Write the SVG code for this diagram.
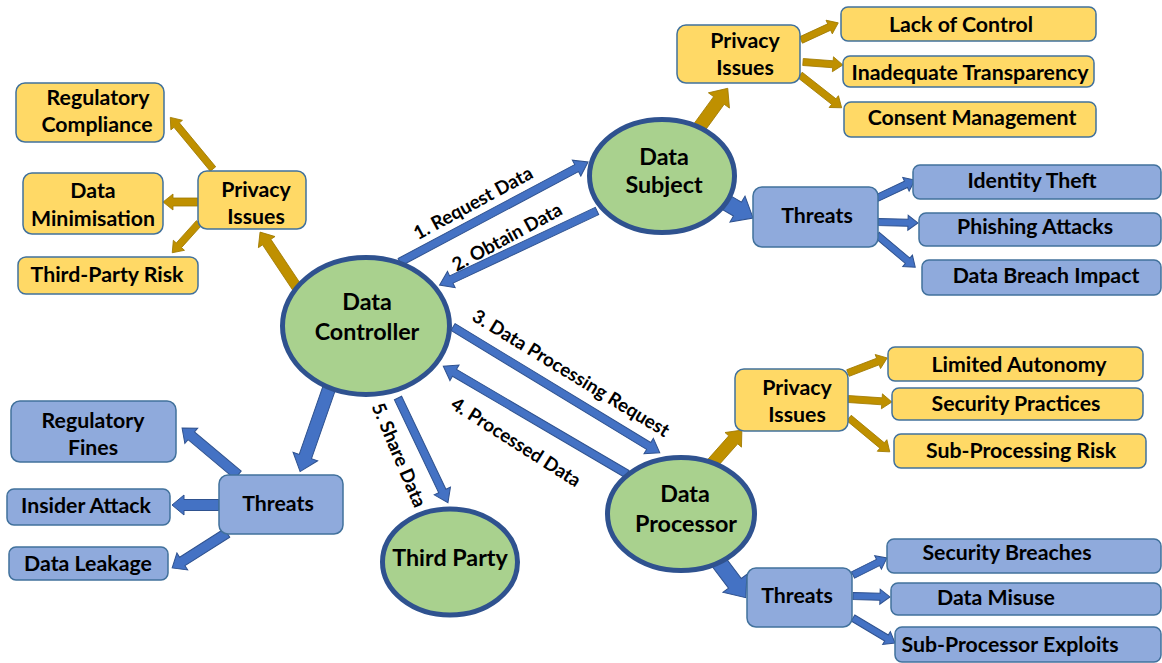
<svg xmlns="http://www.w3.org/2000/svg" width="1162" height="663" viewBox="0 0 1162 663">
<style>
text{font-family:Lato,"Liberation Sans",sans-serif;font-weight:bold;fill:#000;text-anchor:middle}
.bx{font-size:21.3px}
.el{font-size:23.3px}
.lb{font-size:18.8px}
.y{fill:#FFD966;stroke:#41719C;stroke-width:1.5}
.b{fill:#8FAADC;stroke:#41719C;stroke-width:1.5}
.e{fill:#A9D18E;stroke:#2F528F;stroke-width:5}
.ab{fill:#4472C4;stroke:#2F528F;stroke-width:1}
.ag{fill:#BF9000;stroke:#A07A00;stroke-width:0.8}
</style>
<rect width="1162" height="663" fill="#fff"/>
<g id="connectors">
<polygon class="ab" transform="translate(400,262) rotate(-28)" points="0,-4 200,-4 200,-9 213,0 200,9 200,4 0,4"/>
<polygon class="ab" transform="translate(597,211) rotate(154.8)" points="0,-4 161,-4 161,-9 174,0 161,9 161,4 0,4"/>
<polygon class="ab" transform="translate(453,327) rotate(31.3)" points="0,-4 229,-4 229,-9 242,0 229,9 229,4 0,4"/>
<polygon class="ab" transform="translate(627,474) rotate(-149.6)" points="0,-4 200,-4 200,-9 213,0 200,9 200,4 0,4"/>
<polygon class="ab" transform="translate(398,398) rotate(64.5)" points="0,-4 103,-4 103,-9 116,0 103,9 103,4 0,4"/>
<polygon class="ab" transform="translate(332,380) rotate(109.2)" points="0,-6.5 81,-6.5 81,-13 97,0 81,13 81,6.5 0,6.5"/>
<polygon class="ag" transform="translate(300,292) rotate(-123.7)" points="0,-5 60,-5 60,-10 72,0 60,10 60,5 0,5"/>
<polygon class="ag" transform="translate(696,132) rotate(-54)" points="0,-6.5 39,-6.5 39,-13 54,0 39,13 39,6.5 0,6.5"/>
<polygon class="ab" transform="translate(715,196) rotate(30.1)" points="0,-8 26,-8 26,-15 44,0 26,15 26,8 0,8"/>
<polygon class="ag" transform="translate(710,466) rotate(-48.4)" points="0,-6 35,-6 35,-11 48,0 35,11 35,6 0,6"/>
<polygon class="ab" transform="translate(712,553) rotate(52.9)" points="0,-8 38,-8 38,-15 56,0 38,15 38,8 0,8"/>
<polygon class="ag" transform="translate(801,40) rotate(-24.7)" points="0,-3.5 31,-3.5 31,-7.5 41,0 31,7.5 31,3.5 0,3.5"/>
<polygon class="ag" transform="translate(803,62) rotate(4.3)" points="0,-3.5 30,-3.5 30,-7.5 40,0 30,7.5 30,3.5 0,3.5"/>
<polygon class="ag" transform="translate(800,75) rotate(38.2)" points="0,-3.5 43,-3.5 43,-7.5 53,0 43,7.5 43,3.5 0,3.5"/>
<polygon class="ag" transform="translate(213,169) rotate(-129.6)" points="0,-3.5 57,-3.5 57,-7.5 67,0 57,7.5 57,3.5 0,3.5"/>
<polygon class="ag" transform="translate(198,202) rotate(180)" points="0,-4 25,-4 25,-8 35,0 25,8 25,4 0,4"/>
<polygon class="ag" transform="translate(199,223) rotate(132)" points="0,-3.5 30,-3.5 30,-7.5 40,0 30,7.5 30,3.5 0,3.5"/>
<polygon class="ag" transform="translate(848,373) rotate(-21)" points="0,-3.5 32,-3.5 32,-7.5 42,0 32,7.5 32,3.5 0,3.5"/>
<polygon class="ag" transform="translate(848,399) rotate(3.9)" points="0,-3.5 34,-3.5 34,-7.5 44,0 34,7.5 34,3.5 0,3.5"/>
<polygon class="ag" transform="translate(849,418) rotate(39.7)" points="0,-3.5 43,-3.5 43,-7.5 53,0 43,7.5 43,3.5 0,3.5"/>
<polygon class="ab" transform="translate(877,198) rotate(-25.3)" points="0,-3.5 32,-3.5 32,-7.5 42,0 32,7.5 32,3.5 0,3.5"/>
<polygon class="ab" transform="translate(878,222) rotate(1.4)" points="0,-3.5 30,-3.5 30,-7.5 40,0 30,7.5 30,3.5 0,3.5"/>
<polygon class="ab" transform="translate(877,235) rotate(40.1)" points="0,-3.5 40,-3.5 40,-7.5 50,0 40,7.5 40,3.5 0,3.5"/>
<polygon class="ab" transform="translate(238,475) rotate(-140)" points="0,-5 61,-5 61,-10 73,0 61,10 61,5 0,5"/>
<polygon class="ab" transform="translate(219,505) rotate(180)" points="0,-5.5 35,-5.5 35,-10 47,0 35,10 35,5.5 0,5.5"/>
<polygon class="ab" transform="translate(227,533) rotate(147.5)" points="0,-5 53,-5 53,-10 65,0 53,10 53,5 0,5"/>
<polygon class="ab" transform="translate(853,575) rotate(-26.6)" points="0,-3.5 28,-3.5 28,-7.5 38,0 28,7.5 28,3.5 0,3.5"/>
<polygon class="ab" transform="translate(853,596) rotate(1.5)" points="0,-3.5 27,-3.5 27,-7.5 37,0 27,7.5 27,3.5 0,3.5"/>
<polygon class="ab" transform="translate(853,618) rotate(30.8)" points="0,-3.5 39,-3.5 39,-7.5 49,0 39,7.5 39,3.5 0,3.5"/>
<text class="lb" transform="translate(473,203) rotate(-28.4)" dy="0.35em">1. Request Data</text>
<text class="lb" transform="translate(507,237) rotate(-28.4)" dy="0.35em">2. Obtain Data</text>
<text class="lb" transform="translate(571,373) rotate(31.3)" dy="0.35em">3. Data Processing Request</text>
<text class="lb" transform="translate(516,442) rotate(32.5)" dy="0.35em">4. Processed Data</text>
<text class="lb" transform="translate(399,455) rotate(67)" dy="0.35em">5. Share Data</text>
</g>
<g id="data-controller"><ellipse class="e" cx="366" cy="326" rx="83.5" ry="68.5"/><text class="el" x="367" y="310">Data</text><text class="el" x="367" y="340">Controller</text></g>
<g id="data-subject"><ellipse class="e" cx="662" cy="176" rx="72.5" ry="56.5"/><text class="el" x="664" y="165">Data</text><text class="el" x="664" y="193">Subject</text></g>
<g id="data-processor"><ellipse class="e" cx="681" cy="514" rx="73.5" ry="56.5"/><text class="el" x="685" y="502">Data</text><text class="el" x="686" y="532">Processor</text></g>
<g id="third-party"><ellipse class="e" cx="450" cy="562" rx="67.5" ry="53"/><text class="el" x="450" y="566">Third Party</text></g>

<g id="dc-privacy"><rect class="y" x="198" y="171" width="108" height="58" rx="9"/><text class="bx" x="256" y="197">Privacy</text><text class="bx" x="256" y="224">Issues</text></g>
<g id="regulatory-compliance"><rect class="y" x="16" y="83" width="148" height="59" rx="9"/><text class="bx" x="98" y="105">Regulatory</text><text class="bx" x="97" y="132">Compliance</text></g>
<g id="data-minimisation"><rect class="y" x="23" y="173" width="140" height="61" rx="9"/><text class="bx" x="93" y="198">Data</text><text class="bx" x="93" y="226">Minimisation</text></g>
<g id="third-party-risk"><rect class="y" x="18" y="257" width="180" height="37" rx="8"/><text class="bx" x="107" y="282">Third-Party Risk</text></g>

<g id="ds-privacy"><rect class="y" x="677" y="25" width="123" height="58" rx="9"/><text class="bx" x="745" y="48">Privacy</text><text class="bx" x="745" y="75">Issues</text></g>
<g id="lack-of-control"><rect class="y" x="841" y="7" width="255" height="34" rx="7"/><text class="bx" x="961" y="32">Lack of Control</text></g>
<g id="inadequate-transparency"><rect class="y" x="843" y="56" width="251" height="31" rx="7"/><text class="bx" x="970" y="80">Inadequate Transparency</text></g>
<g id="consent-management"><rect class="y" x="844" y="102" width="252" height="35" rx="7"/><text class="bx" x="972" y="125">Consent Management</text></g>

<g id="dp-privacy"><rect class="y" x="735" y="369" width="113" height="62" rx="9"/><text class="bx" x="797" y="395">Privacy</text><text class="bx" x="797" y="422">Issues</text></g>
<g id="limited-autonomy"><rect class="y" x="888" y="347" width="255" height="34" rx="7"/><text class="bx" x="1019" y="372">Limited Autonomy</text></g>
<g id="security-practices"><rect class="y" x="892" y="388" width="251" height="32" rx="7"/><text class="bx" x="1016" y="411">Security Practices</text></g>
<g id="sub-processing-risk"><rect class="y" x="894" y="434" width="252" height="34" rx="7"/><text class="bx" x="1021" y="458">Sub-Processing Risk</text></g>

<g id="ds-threats"><rect class="b" x="753" y="187" width="125" height="60" rx="9"/><text class="bx" x="817" y="223">Threats</text></g>
<g id="identity-theft"><rect class="b" x="913" y="165" width="248" height="34" rx="7"/><text class="bx" x="1032" y="188">Identity Theft</text></g>
<g id="phishing-attacks"><rect class="b" x="919" y="213" width="242" height="33" rx="7"/><text class="bx" x="1035" y="234">Phishing Attacks</text></g>
<g id="data-breach-impact"><rect class="b" x="922" y="260" width="239" height="35" rx="7"/><text class="bx" x="1046" y="283">Data Breach Impact</text></g>

<g id="dc-threats"><rect class="b" x="219" y="475" width="124" height="59" rx="9"/><text class="bx" x="278" y="511">Threats</text></g>
<g id="regulatory-fines"><rect class="b" x="11" y="401" width="165" height="61" rx="9"/><text class="bx" x="93" y="428">Regulatory</text><text class="bx" x="93" y="455">Fines</text></g>
<g id="insider-attack"><rect class="b" x="7" y="489" width="163" height="36" rx="7"/><text class="bx" x="86" y="513">Insider Attack</text></g>
<g id="data-leakage"><rect class="b" x="9" y="547" width="159" height="33" rx="7"/><text class="bx" x="88" y="571">Data Leakage</text></g>

<g id="dp-threats"><rect class="b" x="747" y="568" width="105" height="59" rx="9"/><text class="bx" x="797" y="603">Threats</text></g>
<g id="security-breaches"><rect class="b" x="887" y="539" width="274" height="34" rx="7"/><text class="bx" x="1007" y="560">Security Breaches</text></g>
<g id="data-misuse"><rect class="b" x="891" y="583" width="270" height="32" rx="7"/><text class="bx" x="996" y="605">Data Misuse</text></g>
<g id="sub-processor-exploits"><rect class="b" x="895" y="627" width="266" height="35" rx="7"/><text class="bx" x="1010" y="652">Sub-Processor Exploits</text></g>
</svg>
